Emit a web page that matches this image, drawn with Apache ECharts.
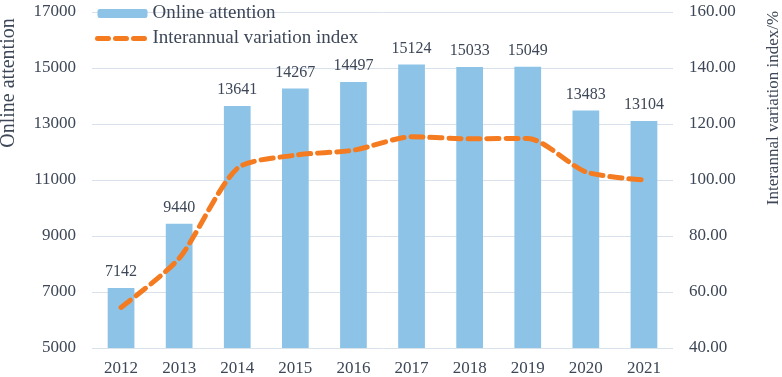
<!DOCTYPE html>
<html>
<head>
<meta charset="utf-8">
<script src="https://cdn.jsdelivr.net/npm/echarts@6/dist/echarts.min.js"></script>
<style>
  html, body { margin: 0; padding: 0; background: #fff; }
  #chart { width: 782px; height: 377px; }
</style>
</head>
<body>
<div id="chart"></div>
<script>
const years = ['2012', '2013', '2014', '2015', '2016', '2017', '2018', '2019', '2020', '2021'];
const onlineAttention = [7142, 9440, 13641, 14267, 14497, 15124, 15033, 15049, 13483, 13104];
const variationIndex = [54.50, 72.04, 104.10, 108.87, 110.63, 115.42, 114.72, 114.84, 102.89, 100.00];

const font = 'Liberation Serif';
const textColor = '#3d4757';

const chart = echarts.init(document.getElementById('chart'));

chart.setOption({
    animation: false,
    textStyle: { fontFamily: font, color: textColor },
    grid: { left: 92, right: 109, top: 12, bottom: 29 },
    legend: {
        orient: 'vertical',
        left: 90,
        top: -1,
        itemWidth: 50,
        itemHeight: 9,
        itemGap: 6,
        textStyle: { fontFamily: font, fontSize: 19, color: textColor },
        data: [
            { name: 'Online attention' },
            {
                name: 'Interannual variation index',
                itemStyle: { opacity: 0 },
                lineStyle: { width: 5, type: [11, 7], cap: 'round', color: '#f47b20' }
            }
        ]
    },
    xAxis: {
        type: 'category',
        data: years,
        axisLine: { show: false },
        axisTick: { show: false },
        axisLabel: { fontFamily: font, fontSize: 17, color: textColor, margin: 12 }
    },
    yAxis: [
        {
            type: 'value',
            min: 5000,
            max: 17000,
            interval: 2000,
            axisLine: { show: false },
            axisTick: { show: false },
            axisLabel: {
                fontFamily: font, fontSize: 17, color: textColor, margin: 16,
                formatter: v => String(v)
            },
            splitLine: { lineStyle: { color: '#d9e1ea', width: 1 } }
        },
        {
            type: 'value',
            min: 40,
            max: 160,
            interval: 20,
            axisLine: { show: false },
            axisTick: { show: false },
            axisLabel: {
                fontFamily: font, fontSize: 17, color: textColor, margin: 16,
                formatter: v => v.toFixed(2)
            },
            splitLine: { show: false }
        }
    ],
    graphic: [
        {
            type: 'text',
            x: 9, y: 83,
            rotation: Math.PI / 2,
            style: {
                text: 'Online attention',
                fontFamily: font,
                fontSize: 20,
                fill: textColor,
                textAlign: 'center',
                textVerticalAlign: 'middle'
            }
        },
        {
            type: 'text',
            x: 774, y: 108,
            rotation: Math.PI / 2,
            style: {
                text: 'Interannal variation index/%',
                fontFamily: font,
                fontSize: 17,
                fill: textColor,
                textAlign: 'center',
                textVerticalAlign: 'middle'
            }
        }
    ],
    series: [
        {
            name: 'Online attention',
            type: 'bar',
            data: onlineAttention,
            barWidth: '46%',
            itemStyle: { color: '#8dc3e7' },
            label: {
                show: true,
                position: 'top',
                distance: 8,
                fontFamily: font,
                fontSize: 16,
                color: textColor
            }
        },
        {
            name: 'Interannual variation index',
            type: 'line',
            yAxisIndex: 1,
            data: variationIndex,
            smooth: 0.25,
            symbol: 'none',
            itemStyle: { color: '#f47b20' },
            lineStyle: { color: '#f47b20', width: 5, type: [12, 7], cap: 'round' }
        }
    ]
});
</script>
</body>
</html>
